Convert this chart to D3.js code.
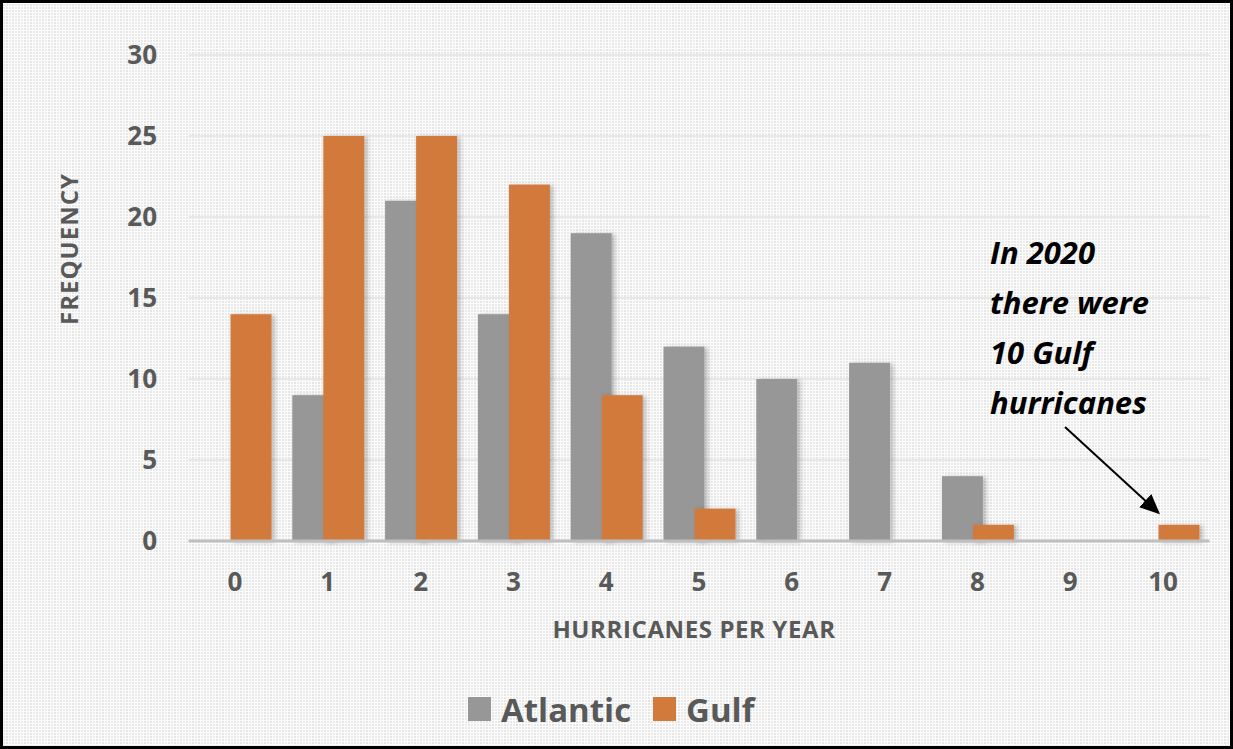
<!DOCTYPE html>
<html>
<head>
<meta charset="utf-8">
<script src="https://cdn.jsdelivr.net/npm/d3@7"></script>
<style>
  html, body { margin: 0; padding: 0; background: #fff; }
  svg { display: block; }
  text { font-family: "Open Sans", "DejaVu Sans", sans-serif; }
</style>
</head>
<body>
<svg id="chart"></svg>
<script>
// hurricanes per year (category) and how many years had that count
const categories = [0, 1, 2, 3, 4, 5, 6, 7, 8, 9, 10];
const atlantic = [0, 9, 21, 14, 19, 12, 10, 11, 4, 0, 0];
const gulf = [14, 25, 25, 22, 9, 2, 0, 0, 1, 0, 1];
const yTicks = [0, 5, 10, 15, 20, 25, 30];
const seriesNames = ["Atlantic", "Gulf"];
const seriesColors = ["#979797", "#d27a3b"];
const noteLines = ["In 2020", "there were", "10 Gulf", "hurricanes"];

const width = 1233;
const height = 749;
const textGrey = "#595959";

const svg = d3.select("#chart")
    .attr("width", width)
    .attr("height", height);

const defs = svg.append("defs");

// dotted background texture (dots with thin white vertical streaks)
const pat = defs.append("pattern")
    .attr("id", "dots")
    .attr("width", 6)
    .attr("height", 3)
    .attr("patternUnits", "userSpaceOnUse");
pat.append("rect").attr("width", 6).attr("height", 3).attr("fill", "#fcfcfc");
pat.append("rect").attr("x", 0).attr("y", 1).attr("width", 2).attr("height", 2).attr("fill", "#e6e6e6");
pat.append("rect").attr("x", 3).attr("y", 1).attr("width", 2).attr("height", 2).attr("fill", "#ebebeb");

// soft shadow behind bars
const shadow = defs.append("filter")
    .attr("id", "shadow")
    .attr("x", "-20%").attr("y", "-20%")
    .attr("width", "150%").attr("height", "140%");
shadow.append("feDropShadow")
    .attr("dx", 3).attr("dy", 1)
    .attr("stdDeviation", 2.5)
    .attr("flood-color", "#000")
    .attr("flood-opacity", 0.25);

const marker = defs.append("marker")
    .attr("id", "arrow")
    .attr("viewBox", "0 0 10 10")
    .attr("refX", 9).attr("refY", 5)
    .attr("markerWidth", 10).attr("markerHeight", 10)
    .attr("markerUnits", "strokeWidth")
    .attr("orient", "auto");
marker.append("path").attr("d", "M0,0.5 L10,5 L0,9.5 z").attr("fill", "#000");

svg.append("rect")
    .attr("width", width)
    .attr("height", height)
    .attr("fill", "url(#dots)");

// scales
const x = d3.scaleBand()
    .domain(categories)
    .range([188.6, 1209.4])
    .padding(0);

const y = d3.scaleLinear()
    .domain([0, 30])
    .range([541, 55]);

// bars overlap a little inside each category (Excel style negative gap)
const barW = 41;
const xOff = d3.scaleOrdinal()
    .domain(seriesNames)
    .range([-35.5, -4.5]);

// gridlines
svg.append("g")
    .selectAll("line")
    .data(yTicks.filter(d => d > 0))
    .enter()
    .append("line")
    .attr("x1", x.range()[0])
    .attr("x2", x.range()[1])
    .attr("y1", d => y(d))
    .attr("y2", d => y(d))
    .attr("stroke", "#e8e8e8")
    .attr("stroke-width", 2);

// y axis labels
const yAxis = d3.axisLeft(y)
    .tickValues(yTicks)
    .tickSize(0)
    .tickPadding(0);

const yG = svg.append("g")
    .attr("transform", "translate(157,0)")
    .call(yAxis);
yG.select(".domain").remove();
yG.selectAll("text")
    .attr("fill", textGrey)
    .style("font-size", "26px")
    .style("font-weight", 700);

// bars
const series = seriesNames.map((name, i) => ({
    name: name,
    color: seriesColors[i],
    values: i === 0 ? atlantic : gulf
}));

series.forEach(s => {
    svg.append("g")
        .attr("filter", "url(#shadow)")
        .selectAll("rect")
        .data(categories.map((c, i) => ({ cat: c, value: s.values[i] })).filter(d => d.value > 0))
        .enter()
        .append("rect")
        .attr("x", d => x(d.cat) + x.bandwidth() / 2 + xOff(s.name))
        .attr("y", d => y(d.value))
        .attr("width", barW)
        .attr("height", d => y(0) - y(d.value))
        .attr("fill", s.color);
});

// baseline + x labels
const xAxis = d3.axisBottom(x)
    .tickSize(0)
    .tickPadding(32);

const xG = svg.append("g")
    .attr("transform", "translate(0," + y(0) + ")")
    .call(xAxis);
xG.select(".domain")
    .attr("stroke", "#bfbfbf")
    .attr("stroke-width", 3)
    .attr("d", "M" + x.range()[0] + ",0H" + x.range()[1]);
xG.selectAll("text")
    .attr("fill", textGrey)
    .style("font-size", "26px")
    .style("font-weight", 700);

// axis titles
svg.append("text")
    .attr("x", 694)
    .attr("y", 638)
    .attr("text-anchor", "middle")
    .attr("fill", textGrey)
    .style("font-size", "24px")
    .style("font-weight", 700)
    .style("letter-spacing", "0.6px")
    .text("HURRICANES PER YEAR");

svg.append("text")
    .attr("transform", "translate(78,249) rotate(-90)")
    .attr("text-anchor", "middle")
    .attr("fill", textGrey)
    .style("font-size", "24px")
    .style("font-weight", 700)
    .style("letter-spacing", "1px")
    .text("FREQUENCY");

// legend
const legend = svg.append("g").attr("transform", "translate(468,697)");
const legendX = [0, 185];
series.forEach((s, i) => {
    legend.append("rect")
        .attr("x", legendX[i])
        .attr("y", 0)
        .attr("width", 23)
        .attr("height", 24)
        .attr("fill", s.color);
    legend.append("text")
        .attr("x", legendX[i] + 33)
        .attr("y", 25)
        .attr("fill", textGrey)
        .style("font-size", "33px")
        .style("font-weight", 700)
        .text(s.name);
});

// annotation
const note = svg.append("text")
    .attr("x", 990)
    .attr("y", 264)
    .attr("fill", "#000")
    .style("font-size", "31px")
    .style("font-weight", 700)
    .style("font-style", "italic");
note.selectAll("tspan")
    .data(noteLines)
    .enter()
    .append("tspan")
    .attr("x", 990)
    .attr("dy", (d, i) => i === 0 ? 0 : 50)
    .text(d => d);

svg.append("line")
    .attr("x1", 1065)
    .attr("y1", 427)
    .attr("x2", x(10) + x.bandwidth() / 2 + xOff("Gulf"))
    .attr("y2", y(1) - 12)
    .attr("stroke", "#000")
    .attr("stroke-width", 2)
    .attr("marker-end", "url(#arrow)");

// frame
svg.append("rect")
    .attr("x", 1.5)
    .attr("y", 1.5)
    .attr("width", width - 3)
    .attr("height", height - 3)
    .attr("fill", "none")
    .attr("stroke", "#000")
    .attr("stroke-width", 3);
</script>
</body>
</html>
